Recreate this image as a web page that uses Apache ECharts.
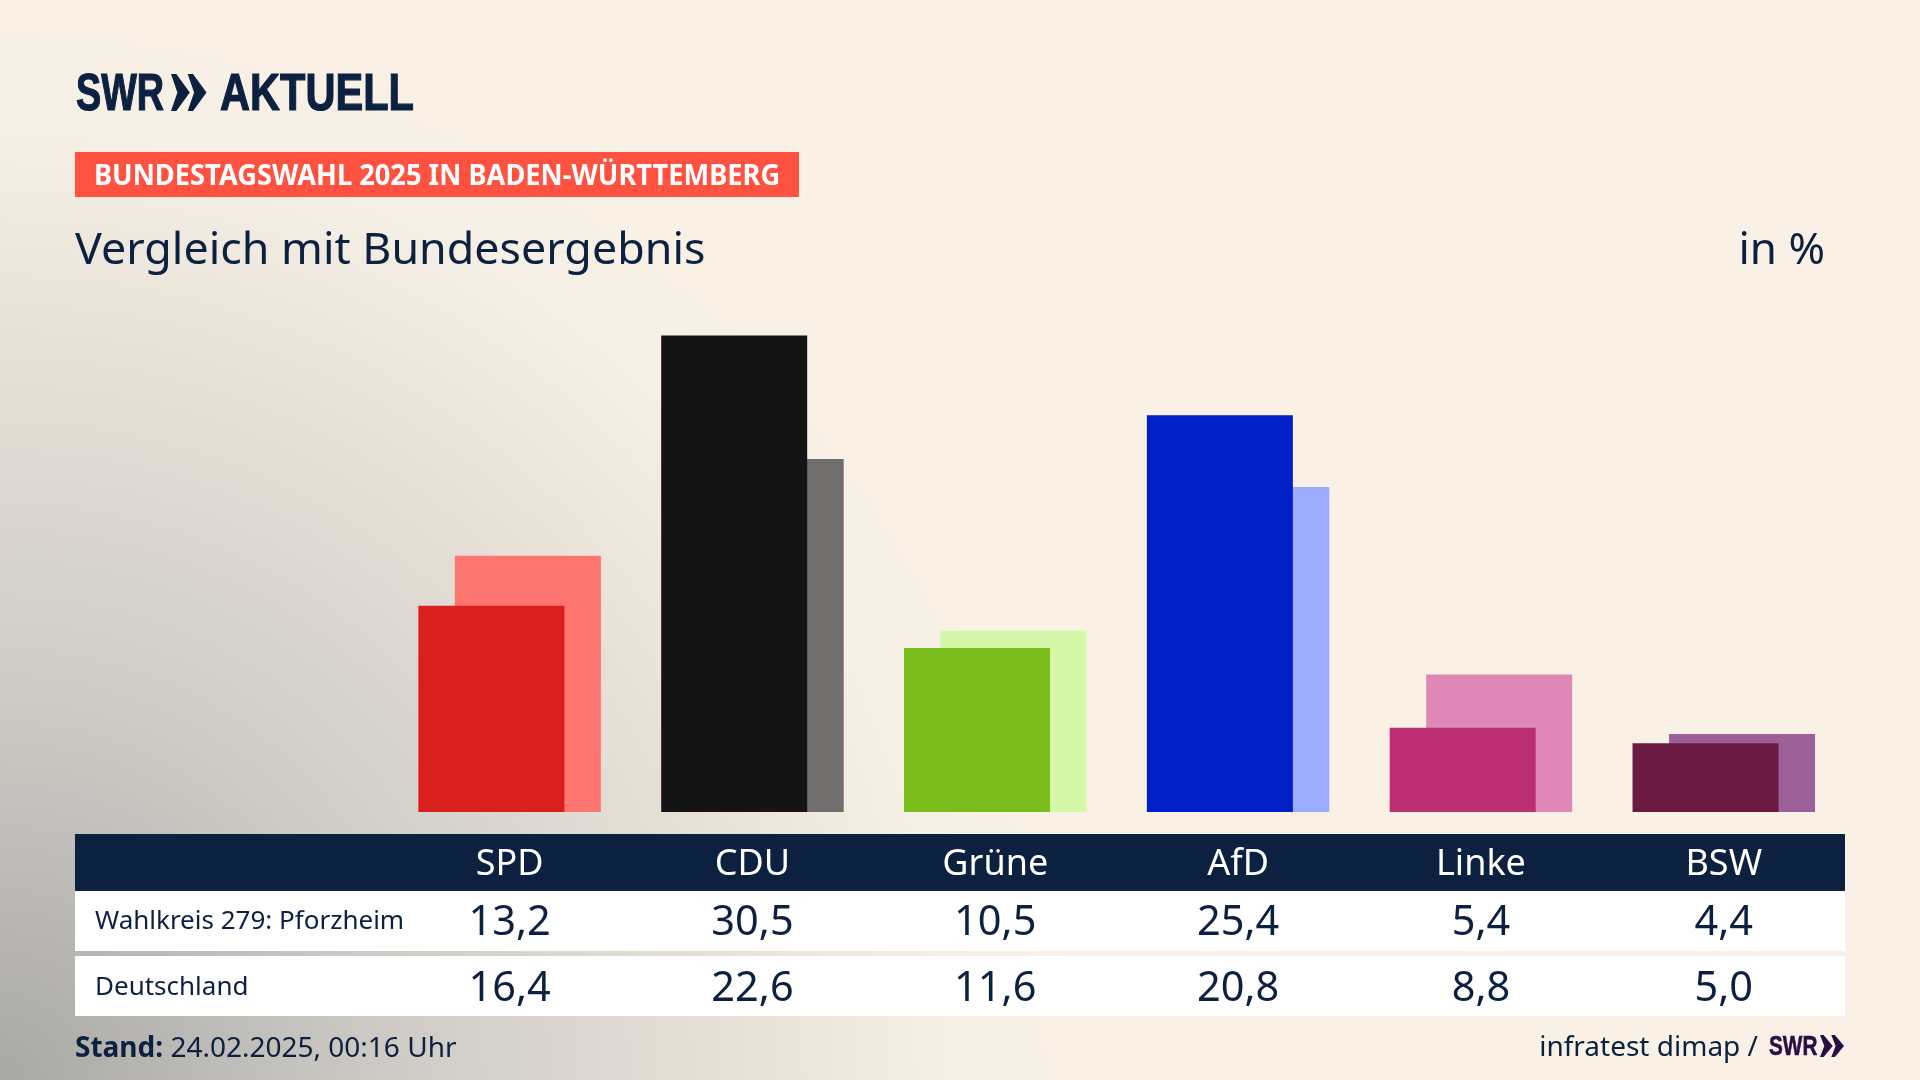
<!DOCTYPE html>
<html>
<head>
<meta charset="utf-8">
<title>Vergleich mit Bundesergebnis</title>
<script src="https://cdn.jsdelivr.net/npm/echarts@6/dist/echarts.min.js"></script>
<style>
  html, body { margin: 0; padding: 0; background: #f9f1e6; }
  #chart { width: 1920px; height: 1080px; }
</style>
</head>
<body>
<div id="chart"></div>
<script>
const parties = ['SPD', 'CDU', 'Grüne', 'AfD', 'Linke', 'BSW']
const wahlkreis = [13.2, 30.5, 10.5, 25.4, 5.4, 4.4]
const deutschland = [16.4, 22.6, 11.6, 20.8, 8.8, 5.0]
const frontColors = ['#d9201e', '#141414', '#7abd1c', '#001fc7', '#bb2e74', '#6b1a41']
const backColors = ['#ff7570', '#706f6d', '#d5f7a8', '#9eacff', '#df88b7', '#9b6098']

const NAVY = '#0c2040'
const FONT = 'Noto Sans'
const LOGO_FONT = 'Liberation Sans'
const comma = v => v.toFixed(1).replace('.', ',')

// unsichtbare Achse, die nur die Tabellenzeile beschriftet
function rowAxis(data, margin, size, color) {
    return {
        type: 'category',
        data: data,
        position: 'bottom',
        z: 10,
        axisLine: { show: false },
        axisTick: { show: false },
        axisLabel: {
            interval: 0,
            margin: margin,
            verticalAlign: 'middle',
            fontFamily: FONT,
            fontSize: size,
            color: color
        }
    }
}

function txt(x, y, text, size, extra, scaleX) {
    return {
        type: 'text',
        z: 5,
        x: x,
        y: y,
        scaleX: scaleX || 1,
        style: Object.assign({
            text: text,
            fill: NAVY,
            fontFamily: FONT,
            fontSize: size,
            verticalAlign: 'middle'
        }, extra)
    }
}

function box(x, y, w, h, fill) {
    return { type: 'rect', z: 1, shape: { x: x, y: y, width: w, height: h }, style: { fill: fill } }
}

// die Doppelpfeile aus dem Logo
function chevrons(x, y, w, h, fill) {
    const one = x0 => ({
        type: 'polygon',
        z: 5,
        shape: { points: [[x0, y], [x0 + w * 0.15, y], [x0 + w * 0.53, y + h / 2], [x0 + w * 0.15, y + h], [x0, y + h], [x0 + w * 0.18, y + h / 2]] },
        style: { fill: fill }
    })
    return [one(x), one(x + w * 0.47)]
}

const chart = echarts.init(document.getElementById('chart'))
chart.setOption({
    animation: false,
    backgroundColor: new echarts.graphic.RadialGradient(0, 1, 1, [
        { offset: 0, color: '#a8a8a6' },
        { offset: 0.35, color: '#cdcac5' },
        { offset: 0.7, color: '#e8e2d9' },
        { offset: 0.88, color: '#f6efe5' },
        { offset: 1, color: '#f9f1e6' }
    ]),
    grid: { left: 388.2, right: 74.8, top: 312, bottom: 268 },
    xAxis: [
        rowAxis(parties, 53, 36, '#ffffff'),
        rowAxis(wahlkreis.map(comma), 111, 41.5, NAVY),
        rowAxis(deutschland.map(comma), 177, 41.5, NAVY)
    ],
    yAxis: { type: 'value', min: 0, max: 32, show: false },
    series: [
        {
            name: 'Wahlkreis 279: Pforzheim',
            type: 'bar',
            z: 3,
            data: wahlkreis,
            barWidth: 146,
            barGap: '-75%',
            itemStyle: { color: p => frontColors[p.dataIndex] }
        },
        {
            name: 'Deutschland',
            type: 'bar',
            z: 2,
            data: deutschland,
            barWidth: 146,
            itemStyle: { color: p => backColors[p.dataIndex] }
        }
    ],
    graphic: [
        box(75, 152, 724, 45, '#ff5240'),
        box(75, 834, 1770, 57, NAVY),
        box(75, 891, 1770, 60, '#ffffff'),
        box(75, 956, 1770, 60, '#ffffff'),
        txt(76, 96, 'SWR', 51, { fontWeight: 'bold', fontFamily: LOGO_FONT, stroke: NAVY, lineWidth: 1.2 }, 0.74),
        ...chevrons(171, 74, 35.5, 37, NAVY),
        txt(220, 96, 'AKTUELL', 51, { fontWeight: 'bold', fontFamily: LOGO_FONT, stroke: NAVY, lineWidth: 1.2 }, 0.815),
        txt(94, 177, 'BUNDESTAGSWAHL 2025 IN BADEN-WÜRTTEMBERG', 28, { fontWeight: 'bold', fill: '#ffffff' }, 0.973),
        txt(75, 251, 'Vergleich mit Bundesergebnis', 44, {}, 1.018),
        txt(1825, 251, 'in %', 44, { align: 'right' }),
        txt(95, 922, 'Wahlkreis 279: Pforzheim', 26),
        txt(95, 988, 'Deutschland', 26),
        txt(75, 1049, '{b|Stand:} 24.02.2025, 00:16 Uhr', 28, {
            rich: { b: { fontFamily: FONT, fontSize: 28, fontWeight: 'bold', fill: NAVY } }
        }),
        txt(1758, 1048, 'infratest dimap /', 28, { align: 'right' }),
        txt(1769, 1047, 'SWR', 28, { fontWeight: 'bold', fontFamily: LOGO_FONT, fill: '#2a0f45', stroke: '#2a0f45', lineWidth: 0.6 }, 0.74),
        ...chevrons(1820, 1035, 24, 22, '#2a0f45')
    ]
})
</script>
</body>
</html>
